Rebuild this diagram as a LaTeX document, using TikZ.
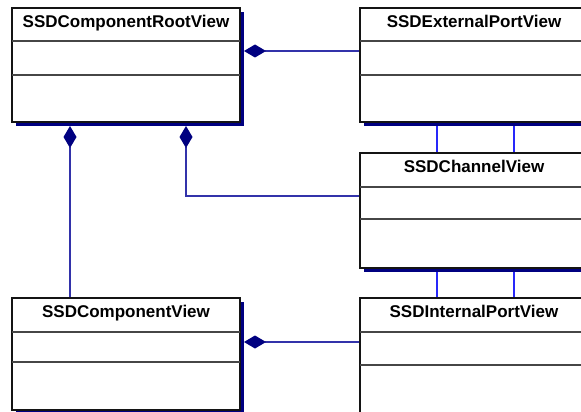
\documentclass[tikz,border=0pt]{standalone}
\usepackage{fontspec}
\setmainfont{Liberation Sans}
\usetikzlibrary{arrows.meta,backgrounds}

\definecolor{shadownavy}{RGB}{0,0,128}
\definecolor{linknavy}{RGB}{50,50,170}
\definecolor{linkblue}{RGB}{40,40,250}
\definecolor{frame}{RGB}{20,20,20}
\definecolor{divider}{RGB}{70,70,70}

% UML class: name, x1, y1, x2, y2, divider 1, divider 2, title
\newcommand\umlclass[8]{%
  \pgfmathsetmacro\classw{#4-#2}%
  \pgfmathsetmacro\classh{#5-#3}%
  \fill[boxshadow] (#2+4,#3+4) rectangle (#4+4,#5+4);
  \node[classbox, minimum width=\classw pt, minimum height=\classh pt] (#1) at (#2,#3) {};
  \draw[divline] (#2,#6) -- (#4,#6);
  \draw[divline] (#2,#7) -- (#4,#7);
  \node[classtitle] (#1-title) at ({(#2+#4)/2},#3+19.5) {#8};
}

\begin{document}
\begin{tikzpicture}[x=1pt,y=-1pt,
  classbox/.style={draw=frame, line width=1.5pt, fill=white, rectangle,
    inner sep=0pt, outer sep=0pt, anchor=north west},
  boxshadow/.style={fill=shadownavy, draw=none},
  divline/.style={draw=divider, line width=1.2pt},
  classtitle/.style={font=\bfseries\fontsize{17}{17}\selectfont, anchor=base, inner sep=0pt},
  compose/.style={draw=linknavy, line width=1.3pt,
    -{Diamond[length=22pt,width=13pt,color=shadownavy,fill=shadownavy]}},
  link/.style={draw=linkblue, line width=1.3pt}]

\useasboundingbox (0,0) rectangle (581,412);
\clip (0,0) rectangle (581,412);

\umlclass{root}{12}{8}{240}{122}{41}{75}{SSDComponentRootView}
\umlclass{ext}{360}{8}{588}{122}{41}{75}{SSDExternalPortView}
\umlclass{chan}{360}{153}{588}{268}{187}{219}{SSDChannelView}
\umlclass{comp}{12}{298}{240}{410}{332}{362}{SSDComponentView}
\umlclass{int}{360}{298}{588}{440}{332}{365}{SSDInternalPortView}

\begin{pgfonlayer}{background}
  \fill[white] (0,0) rectangle (581,412);
  % compositions into the root view
  \draw[compose] ([yshift=-43pt]ext.north west) -- ([xshift=4pt,yshift=-43pt]root.north east);
  \draw[compose] ([yshift=-43pt]chan.north west) -| ([xshift=174pt,yshift=-4pt]root.south west);
  \draw[compose] ([xshift=58pt]comp.north west) -- ([xshift=58pt,yshift=-4pt]root.south west);
  % internal ports belong to the component view
  \draw[compose] ([yshift=-44pt]int.north west) -- ([xshift=4pt,yshift=-44pt]comp.north east);
  % port to channel associations
  \draw[link] ([xshift=77pt]ext.south west) -- ([xshift=77pt]chan.north west);
  \draw[link] ([xshift=154pt]ext.south west) -- ([xshift=154pt]chan.north west);
  \draw[link] ([xshift=77pt]chan.south west) -- ([xshift=77pt]int.north west);
  \draw[link] ([xshift=154pt]chan.south west) -- ([xshift=154pt]int.north west);
\end{pgfonlayer}
\end{tikzpicture}
\end{document}
